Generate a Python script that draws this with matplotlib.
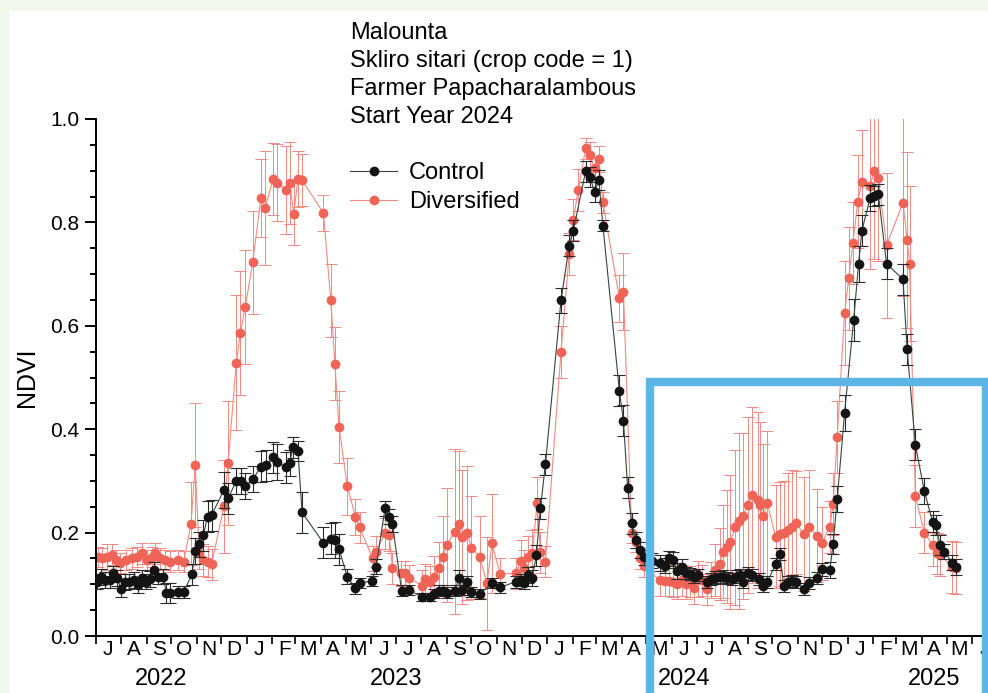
import numpy as np
import matplotlib
matplotlib.use("Agg")
import matplotlib.pyplot as plt
import matplotlib.dates as mdates
from matplotlib.patches import Rectangle
from matplotlib.lines import Line2D
from matplotlib.ticker import MultipleLocator, FuncFormatter, NullFormatter

plt.rcParams['font.family'] = ['Liberation Sans', 'DejaVu Sans']

# days counted from 1 Jul 2022
ctrl_day = [
    1, 6, 11, 17, 21, 26, 31, 36, 41, 46,
    51, 56, 61, 66, 71, 76, 82, 86, 90, 100,
    107, 117, 121, 126, 131, 136, 141, 156, 161, 171,
    177, 182, 191, 201, 207, 216, 221, 231, 236, 240,
    246, 251, 277, 286, 291, 296, 306, 316, 321, 336,
    341, 352, 357, 361, 372, 381, 397, 407, 412, 417,
    422, 427, 437, 442, 446, 452, 457, 467, 482, 492,
    511, 517, 521, 526, 531, 536, 541, 547, 566, 576,
    581, 596, 601, 607, 612, 617, 637, 642, 647, 652,
    657, 662, 667, 677, 686, 692, 697, 702, 707, 713,
    718, 723, 728, 733, 743, 748, 753, 759, 763, 768,
    774, 779, 784, 788, 793, 798, 807, 812, 817, 827,
    832, 837, 842, 847, 852, 861, 868, 877, 883, 893,
    897, 902, 911, 922, 928, 932, 942, 947, 952, 962,
    982, 987, 997, 1008, 1018, 1022, 1027, 1032, 1042, 1047]
ctrl_ndvi = [
    0.105, 0.114, 0.108, 0.108, 0.121, 0.112, 0.091, 0.104, 0.105, 0.108,
    0.099, 0.112, 0.105, 0.110, 0.128, 0.115, 0.115, 0.083, 0.083, 0.085,
    0.085, 0.119, 0.164, 0.177, 0.195, 0.231, 0.234, 0.282, 0.266, 0.300,
    0.300, 0.290, 0.303, 0.327, 0.330, 0.346, 0.337, 0.326, 0.335, 0.365,
    0.358, 0.239, 0.180, 0.188, 0.186, 0.168, 0.115, 0.092, 0.103, 0.106,
    0.134, 0.247, 0.231, 0.217, 0.088, 0.089, 0.075, 0.076, 0.082, 0.088,
    0.088, 0.084, 0.088, 0.113, 0.089, 0.105, 0.085, 0.081, 0.102, 0.094,
    0.105, 0.108, 0.102, 0.118, 0.112, 0.156, 0.247, 0.332, 0.649, 0.755,
    0.784, 0.899, 0.888, 0.859, 0.882, 0.794, 0.474, 0.416, 0.287, 0.218,
    0.186, 0.166, 0.152, 0.146, 0.141, 0.136, 0.150, 0.147, 0.126, 0.134,
    0.122, 0.120, 0.115, 0.118, 0.105, 0.110, 0.113, 0.114, 0.115, 0.112,
    0.110, 0.115, 0.118, 0.105, 0.121, 0.118, 0.110, 0.097, 0.104, 0.139,
    0.159, 0.097, 0.105, 0.106, 0.105, 0.091, 0.102, 0.112, 0.129, 0.128,
    0.178, 0.265, 0.432, 0.611, 0.720, 0.784, 0.847, 0.851, 0.854, 0.720,
    0.690, 0.555, 0.370, 0.280, 0.221, 0.215, 0.176, 0.163, 0.142, 0.133]
ctrl_err = [
    0.015, 0.015, 0.015, 0.015, 0.015, 0.015, 0.015, 0.015, 0.015, 0.015,
    0.015, 0.015, 0.015, 0.015, 0.015, 0.015, 0.015, 0.020, 0.020, 0.012,
    0.012, 0.020, 0.025, 0.025, 0.030, 0.030, 0.030, 0.035, 0.030, 0.025,
    0.025, 0.025, 0.025, 0.030, 0.030, 0.030, 0.035, 0.030, 0.025, 0.020,
    0.020, 0.040, 0.030, 0.030, 0.035, 0.030, 0.015, 0.010, 0.010, 0.010,
    0.015, 0.015, 0.015, 0.015, 0.010, 0.010, 0.008, 0.008, 0.008, 0.010,
    0.010, 0.010, 0.010, 0.015, 0.010, 0.012, 0.010, 0.010, 0.010, 0.010,
    0.012, 0.012, 0.012, 0.015, 0.015, 0.020, 0.020, 0.020, 0.025, 0.020,
    0.020, 0.020, 0.020, 0.020, 0.020, 0.010, 0.030, 0.030, 0.020, 0.020,
    0.015, 0.015, 0.015, 0.015, 0.015, 0.015, 0.015, 0.015, 0.015, 0.015,
    0.012, 0.012, 0.012, 0.012, 0.012, 0.012, 0.012, 0.012, 0.012, 0.012,
    0.012, 0.012, 0.012, 0.012, 0.012, 0.012, 0.012, 0.012, 0.012, 0.012,
    0.012, 0.012, 0.012, 0.012, 0.012, 0.012, 0.012, 0.012, 0.012, 0.015,
    0.020, 0.025, 0.035, 0.040, 0.035, 0.030, 0.025, 0.020, 0.020, 0.030,
    0.030, 0.030, 0.030, 0.025, 0.020, 0.020, 0.020, 0.015, 0.015, 0.015]

div_day = [
    3, 8, 14, 20, 25, 30, 37, 44, 50, 56,
    62, 68, 72, 78, 84, 90, 100, 107, 116, 121,
    126, 131, 136, 141, 156, 161, 171, 176, 182, 191,
    201, 206, 216, 221, 231, 236, 241, 246, 251, 277,
    286, 291, 296, 306, 316, 321, 337, 341, 352, 357,
    361, 371, 376, 381, 397, 401, 407, 412, 417, 422,
    427, 437, 442, 446, 452, 457, 467, 476, 482, 492,
    511, 517, 521, 526, 531, 537, 541, 547, 566, 576,
    581, 587, 596, 601, 607, 612, 617, 637, 642, 652,
    657, 662, 667, 686, 692, 697, 702, 707, 713, 718,
    723, 728, 733, 738, 743, 748, 753, 759, 763, 768,
    772, 778, 782, 787, 793, 798, 806, 808, 812, 817,
    827, 832, 837, 842, 847, 852, 861, 868, 877, 883,
    893, 897, 902, 911, 916, 921, 927, 932, 942, 947,
    952, 962, 982, 987, 990, 997, 1008, 1018, 1023, 1027,
    1042, 1047]
div_ndvi = [
    0.153, 0.150, 0.153, 0.157, 0.147, 0.141, 0.147, 0.150, 0.153, 0.160,
    0.147, 0.153, 0.160, 0.150, 0.147, 0.144, 0.147, 0.144, 0.217, 0.331,
    0.160, 0.147, 0.144, 0.139, 0.251, 0.334, 0.529, 0.586, 0.637, 0.723,
    0.847, 0.828, 0.884, 0.877, 0.862, 0.876, 0.817, 0.884, 0.882, 0.818,
    0.649, 0.527, 0.404, 0.290, 0.230, 0.210, 0.150, 0.163, 0.199, 0.195,
    0.131, 0.121, 0.121, 0.113, 0.097, 0.110, 0.105, 0.115, 0.132, 0.153,
    0.176, 0.202, 0.217, 0.192, 0.199, 0.171, 0.153, 0.102, 0.179, 0.120,
    0.121, 0.145, 0.131, 0.153, 0.160, 0.257, 0.162, 0.144, 0.549, 0.739,
    0.805, 0.863, 0.943, 0.930, 0.905, 0.922, 0.839, 0.653, 0.666, 0.199,
    0.182, 0.150, 0.135, 0.108, 0.107, 0.107, 0.105, 0.101, 0.108, 0.101,
    0.105, 0.092, 0.110, 0.108, 0.090, 0.108, 0.128, 0.139, 0.163, 0.173,
    0.182, 0.210, 0.223, 0.232, 0.253, 0.273, 0.263, 0.253, 0.232, 0.257,
    0.192, 0.197, 0.200, 0.205, 0.211, 0.219, 0.197, 0.211, 0.194, 0.179,
    0.211, 0.255, 0.385, 0.625, 0.692, 0.760, 0.840, 0.879, 0.870, 0.900,
    0.885, 0.756, 0.838, 0.766, 0.720, 0.271, 0.200, 0.176, 0.160, 0.157,
    0.134, 0.131]
div_err = [
    0.020, 0.020, 0.025, 0.020, 0.020, 0.020, 0.020, 0.020, 0.020, 0.020,
    0.020, 0.020, 0.020, 0.020, 0.020, 0.020, 0.020, 0.020, 0.080, 0.120,
    0.030, 0.030, 0.030, 0.030, 0.090, 0.120, 0.130, 0.120, 0.110, 0.100,
    0.075, 0.110, 0.070, 0.075, 0.085, 0.080, 0.060, 0.055, 0.050, 0.035,
    0.070, 0.070, 0.070, 0.055, 0.035, 0.030, 0.025, 0.030, 0.030, 0.030,
    0.030, 0.025, 0.025, 0.025, 0.030, 0.030, 0.030, 0.040, 0.050, 0.080,
    0.110, 0.160, 0.140, 0.130, 0.130, 0.100, 0.080, 0.090, 0.095, 0.030,
    0.030, 0.040, 0.035, 0.040, 0.045, 0.050, 0.040, 0.030, 0.050, 0.040,
    0.040, 0.040, 0.020, 0.025, 0.020, 0.025, 0.020, 0.045, 0.075, 0.020,
    0.020, 0.020, 0.020, 0.030, 0.030, 0.030, 0.030, 0.030, 0.030, 0.030,
    0.030, 0.030, 0.035, 0.030, 0.030, 0.035, 0.050, 0.070, 0.090, 0.110,
    0.130, 0.150, 0.170, 0.160, 0.170, 0.170, 0.170, 0.160, 0.140, 0.140,
    0.100, 0.100, 0.100, 0.110, 0.110, 0.100, 0.110, 0.110, 0.090, 0.070,
    0.050, 0.060, 0.070, 0.100, 0.100, 0.080, 0.090, 0.100, 0.160, 0.170,
    0.160, 0.140, 0.180, 0.170, 0.150, 0.060, 0.040, 0.040, 0.040, 0.040,
    0.050, 0.050]

year_labels = ['2022', '2023', '2024', '2025']
year_anchor = ['2022-09-18', '2023-07-02', '2024-06-16', '2025-04-16']

title_lines = ['Malounta', 'Skliro sitari (crop code = 1)',
               'Farmer Papacharalambous', 'Start Year 2024']

start = np.datetime64('2022-07-01')
ctrl_x = start + np.array(ctrl_day).astype('timedelta64[D]')
div_x = start + np.array(div_day).astype('timedelta64[D]')

red = '#ef6456'
red_line = '#f28a82'
dark = '#141414'
dark_line = '#37433f'

fig = plt.figure(figsize=(9.88, 6.93), dpi=100, facecolor='#f3f8ee')
fig.patches.append(Rectangle((10 / 988, 0), 1, 682 / 693, transform=fig.transFigure,
                             facecolor='white', edgecolor='none', zorder=-10))

ax = fig.add_axes([95.7 / 988, 57 / 693, 901 / 988, 517 / 693])
ax.set_facecolor('none')

ax.errorbar(div_x, div_ndvi, yerr=div_err, fmt='-o', color=red_line, mfc=red, mec=red,
            ms=6, lw=0.8, ecolor=red_line, elinewidth=0.7, capsize=4, capthick=0.7, zorder=2)
ax.errorbar(ctrl_x, ctrl_ndvi, yerr=ctrl_err, fmt='-o', color=dark_line, mfc=dark, mec=dark,
            ms=6, lw=0.8, ecolor='#2a2a2a', elinewidth=0.8, capsize=4, capthick=0.8, zorder=3)

ax.set_ylim(0, 1.0)
ax.set_xlim(np.datetime64('2022-07-01'), np.datetime64('2025-07-01'))
for s in ['top', 'right']:
    ax.spines[s].set_visible(False)
for s in ['left', 'bottom']:
    ax.spines[s].set_linewidth(1.4)

ax.yaxis.set_major_locator(MultipleLocator(0.2))
ax.yaxis.set_minor_locator(MultipleLocator(0.05))
ax.yaxis.set_major_formatter(FuncFormatter(lambda v, p: f'{v:.1f}'))
ax.tick_params(axis='y', which='major', direction='out', length=8, width=1.4,
               labelsize=15, pad=4)
ax.tick_params(axis='y', which='minor', direction='out', length=4, width=1.4)

ax.xaxis.set_major_locator(mdates.MonthLocator())
ax.xaxis.set_major_formatter(NullFormatter())
ax.xaxis.set_minor_locator(mdates.MonthLocator(bymonthday=16))
ax.xaxis.set_minor_formatter(FuncFormatter(lambda v, p: mdates.num2date(v).strftime('%b')[0]))
ax.tick_params(axis='x', which='major', direction='out', length=6, width=1.2)
ax.tick_params(axis='x', which='minor', length=0, labelsize=15, pad=3)

ax.set_ylabel('NDVI', fontsize=18, labelpad=8)

for lab, anc in zip(year_labels, year_anchor):
    ax.text(np.datetime64(anc), -0.083, lab, transform=ax.get_xaxis_transform(),
            ha='center', va='center', fontsize=17)

for i, line in enumerate(title_lines):
    fig.text(350 / 988, 1 - (33 + 28 * i) / 693, line, ha='left', va='center', fontsize=17)

handles = [Line2D([], [], color=dark_line, marker='o', mfc=dark, mec=dark, ms=6, lw=0.8),
           Line2D([], [], color=red_line, marker='o', mfc=red, mec=red, ms=6, lw=0.8)]
fig.legend(handles, ['Control', 'Diversified'], loc='upper left',
           bbox_to_anchor=(350 / 988, 1 - 162 / 693), frameon=False, fontsize=17,
           borderpad=0, borderaxespad=0, handlelength=2.0, handletextpad=0.5,
           labelspacing=0.3)

fig.patches.append(Rectangle((650 / 988, -10 / 693), 336 / 988, (693 - 382 + 10) / 693,
                             transform=fig.transFigure, facecolor='none',
                             edgecolor='#5db4e6', lw=6, zorder=10))

fig.savefig('out.png', dpi=100, facecolor=fig.get_facecolor())
